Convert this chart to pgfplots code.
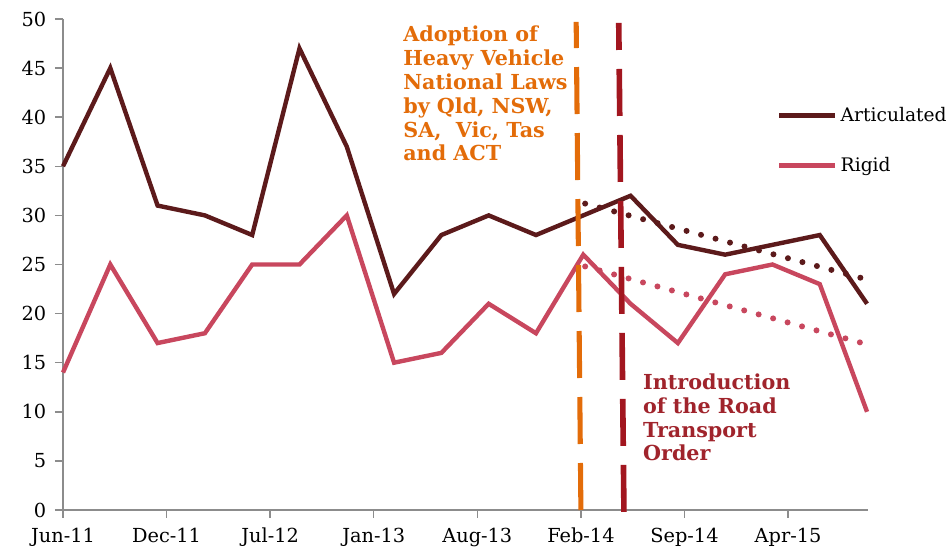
\documentclass[border=0pt]{standalone}
\usepackage{fontspec}
\setmainfont{DejaVu Serif}
\usepackage{pgfplots}
\pgfplotsset{compat=1.18}
\definecolor{artc}{HTML}{5C1A1B}
\definecolor{rigc}{HTML}{C8475E}
\definecolor{orgc}{HTML}{E36C09}
\definecolor{redc}{HTML}{A2161F}
\definecolor{redt}{HTML}{A0242C}
\definecolor{axc}{HTML}{8C8C8C}
\begin{document}
\begin{tikzpicture}
\useasboundingbox (-47.25pt,-29.25pt) rectangle (663pt,382.5pt);
\begin{axis}[
  at={(0pt,0pt)}, anchor=south west,
  scale only axis, width=603.75pt, height=368.25pt,
  xmin=0, xmax=17.02, ymin=0, ymax=50,
  axis lines*=left,
  axis line style={draw=axc, line width=1.1pt},
  tick style={draw=axc, line width=1.1pt},
  tick align=outside, major tick length=6pt,
  ytick={0,5,...,50},
  xtick={0,2.19,4.38,6.57,8.76,10.95,13.14,15.33},
  xticklabels={Jun-11,Dec-11,Jul-12,Jan-13,Aug-13,Feb-14,Sep-14,Apr-15},
  /pgf/number format/assume math mode=true,
  ticklabel style={font=\fontsize{14.5}{17}\selectfont, text=black},
  yticklabel style={xshift=-3pt},
  xticklabel style={yshift=-4pt},
  clip=false,
  legend style={draw=none, fill=none, at={(axis cs:15.09,37.63)}, anchor=west,
    inner sep=0pt, row sep=22.5pt, nodes={inner sep=1.5pt},
    font=\fontsize{14}{16}\selectfont, cells={anchor=west},
    /tikz/every odd column/.append style={column sep=1pt}},
  legend image code/.code={\draw[#1] (0pt,0pt) -- (42pt,0pt);},
]
\addplot[artc, line width=3.3pt, line join=miter] coordinates {
(0,35) (1,45) (2,31) (3,30) (4,28) (5,47) (6,37) (7,22) (8,28) (9,30)
(10,28) (11,30) (12,32) (13,27) (14,26) (15,27) (16,28) (17,21)};
\addlegendentry{Articulated}
\addplot[rigc, line width=3.3pt, line join=miter] coordinates {
(0,14) (1,25) (2,17) (3,18) (4,25) (5,25) (6,30) (7,15) (8,16) (9,21)
(10,18) (11,26) (12,21) (13,17) (14,24) (15,25) (16,23) (17,10)};
\addlegendentry{Rigid}
% trend lines
\addplot[forget plot, artc, line width=4.5pt, line cap=round, dash pattern=on 0pt off 11.25pt] coordinates {(11.04,31.2) (16.9,23.6)};
\addplot[forget plot, rigc, line width=4.5pt, line cap=round, dash pattern=on 0pt off 11.25pt] coordinates {(11.04,24.8) (16.9,17.0)};
% event lines
\addplot[forget plot, orgc, line width=3.8pt, dash pattern=on 35.25pt off 14.25pt] coordinates {(10.95,0) (10.85,49.7)};
\addplot[forget plot, redc, line width=4.2pt, dash pattern=on 35.25pt off 14.25pt] coordinates {(11.86,-0.2) (11.75,49.6)};
\node[anchor=north west, inner sep=0pt, align=left, text=orgc,
  font=\bfseries\fontsize{15.5}{17.85}\selectfont] at (axis cs:7.19,49.3)
  {Adoption of\\Heavy Vehicle\\National Laws\\by Qld, NSW,\\SA,\ \ Vic, Tas\\and ACT};
\node[anchor=north west, inner sep=0pt, align=left, text=redt,
  font=\bfseries\fontsize{15.5}{17.85}\selectfont] at (axis cs:12.26,13.9)
  {Introduction\\of the Road\\Transport\\Order};
\end{axis}
\end{tikzpicture}
\end{document}
